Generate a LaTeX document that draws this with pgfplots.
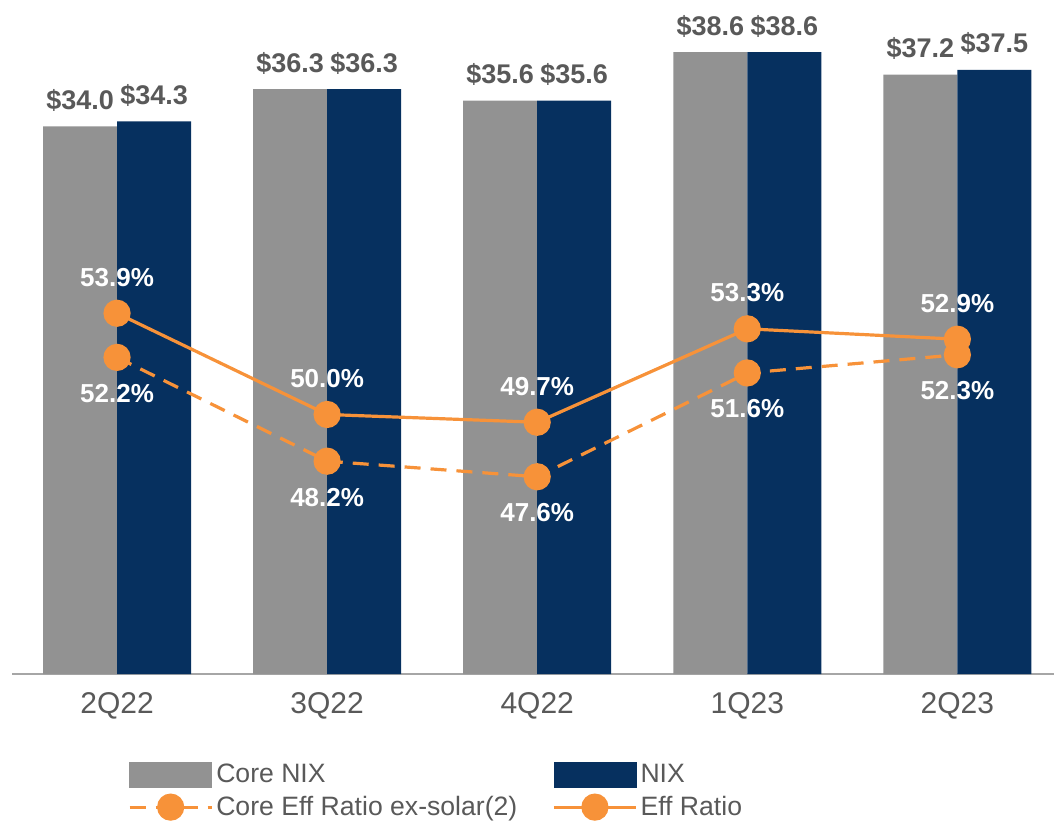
\documentclass[border=0pt]{standalone}
\usepackage{pgfplots}
\pgfplotsset{compat=1.18}
\usepackage{fontspec}
\setmainfont{Liberation Sans}
\definecolor{coregray}{HTML}{929292}
\definecolor{nixnavy}{HTML}{06305F}
\definecolor{effor}{HTML}{F79239}
\definecolor{txtgray}{HTML}{595959}
\definecolor{axgray}{HTML}{A6A6A6}
\pgfplotsset{
  lineleg/.style={legend image code/.code={%
    \draw[mark repeat=2,mark phase=2,##1] plot coordinates {(0pt,0pt) (20.5pt,0pt) (41pt,0pt)};}},
  barleg/.style={legend image code/.code={%
    \fill[##1] (0pt,-6.25pt) rectangle (41pt,6.25pt);}},
}
\begin{document}
\begin{tikzpicture}
\path[use as bounding box] (-6pt,-73.5pt) rectangle (521pt,337pt);
% bars: Core NIX and NIX ($M)
\begin{axis}[
  at={(0,0)}, anchor=south west,
  width=521pt, height=337pt, scale only axis,
  /pgf/number format/assume math mode=true,
  ybar=0pt, bar width=37pt,
  xmin=-0.5, xmax=4.46,
  ymin=0, ymax=41.84,
  axis y line=none,
  axis x line*=bottom,
  x axis line style={axgray, line width=1pt, -},
  xtick={0,1,2,3,4},
  xticklabels={2Q22,3Q22,4Q22,1Q23,2Q23},
  major tick length=0pt,
  xticklabel style={font=\fontsize{15}{18}\selectfont, text=txtgray, yshift=-5.5pt},
  nodes near coords={\$\pgfmathprintnumber[fixed,fixed zerofill,precision=1]{\pgfplotspointmeta}},
  every node near coord/.append style={font=\bfseries\fontsize{13.5}{16}\selectfont, text=txtgray, anchor=base, yshift=8.5pt},
  clip=false,
]
\addplot[fill=coregray, draw=none] coordinates {(0,34.0) (1,36.3) (2,35.6) (3,38.6) (4,37.2)};
\addplot[fill=nixnavy, draw=none] coordinates {(0,34.3) (1,36.3) (2,35.6) (3,38.6) (4,37.5)};
\end{axis}
% lines: efficiency ratios (%)
\begin{axis}[
  at={(0,0)}, anchor=south west,
  width=521pt, height=337pt, scale only axis,
  /pgf/number format/assume math mode=true,
  xmin=-0.5, xmax=4.46,
  ymin=40, ymax=65.97,
  axis lines=none,
  clip=false,
  legend columns=2,
  legend cell align=left,
  legend style={at={(0.111,0)}, anchor=north west, yshift=-43.5pt,
    draw=none, fill=none, inner sep=0pt,
    font=\fontsize{13.3}{16}\selectfont, text=txtgray,
    nodes={inner sep=1.5pt},
    row sep=2pt,
    /tikz/column 2/.style={column sep=16pt}},
]
\addlegendimage{barleg, coregray}
\addlegendentry{Core NIX}
\addlegendimage{barleg, nixnavy}
\addlegendentry{NIX}
\addplot[effor, line width=1.6pt, dash pattern=on 8pt off 5pt,
  mark=*, mark size=6pt, mark options={solid, fill=effor, draw=effor},
  nodes near coords={\pgfmathprintnumber[fixed,fixed zerofill,precision=1]{\pgfplotspointmeta}\%},
  every node near coord/.append style={font=\bfseries\fontsize{13}{15}\selectfont, text=white, anchor=center, yshift=-18pt},
  lineleg]
  coordinates {(0,52.2) (1,48.2) (2,47.6) (3,51.6) (4,52.3)};
\addlegendentry{Core Eff Ratio ex-solar(2)}
\addplot[effor, line width=1.6pt,
  mark=*, mark size=6pt, mark options={fill=effor, draw=effor},
  nodes near coords={\pgfmathprintnumber[fixed,fixed zerofill,precision=1]{\pgfplotspointmeta}\%},
  every node near coord/.append style={font=\bfseries\fontsize{13}{15}\selectfont, text=white, anchor=center, yshift=18pt},
  lineleg]
  coordinates {(0,53.9) (1,50.0) (2,49.7) (3,53.3) (4,52.9)};
\addlegendentry{Eff Ratio}
\end{axis}
\end{tikzpicture}
\end{document}
